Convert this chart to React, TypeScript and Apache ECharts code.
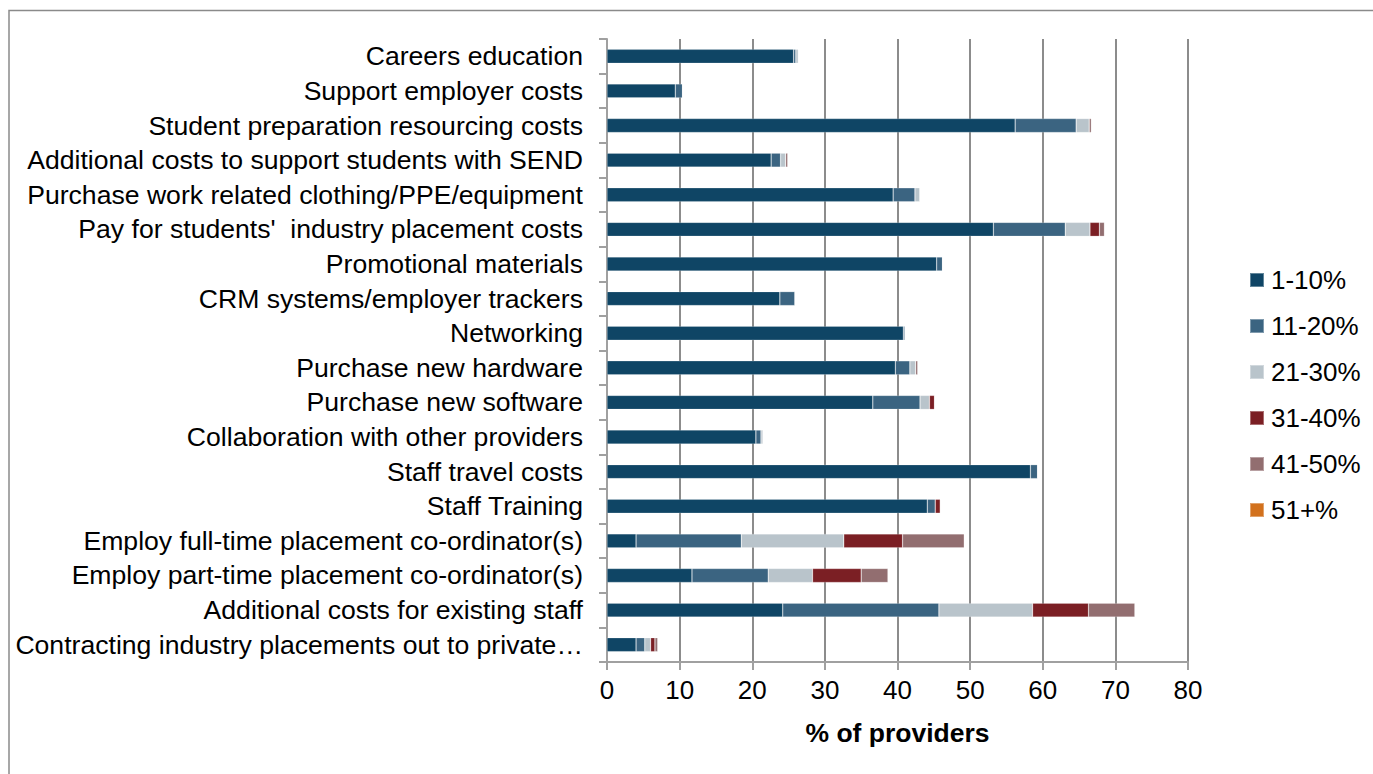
import React, { useEffect, useRef } from "react";
import * as echarts from "echarts";

const categories = [
  "Careers education",
  "Support employer costs",
  "Student preparation resourcing costs",
  "Additional costs to support students with SEND",
  "Purchase work related clothing/PPE/equipment",
  "Pay for students'  industry placement costs",
  "Promotional materials",
  "CRM systems/employer trackers",
  "Networking",
  "Purchase new hardware",
  "Purchase new software",
  "Collaboration with other providers",
  "Staff travel costs",
  "Staff Training",
  "Employ full-time placement co-ordinator(s)",
  "Employ part-time placement co-ordinator(s)",
  "Additional costs for existing staff",
  "Contracting industry placements out to private providers",
];

const seriesNames = ["1-10%", "11-20%", "21-30%", "31-40%", "41-50%", "51+%"];
const seriesColors = ["#0f4565", "#3b6481", "#b9c4cb", "#7b1f24", "#926e70", "#d2711d"];

const v1to10 = [25.7, 9.4, 56.2, 22.6, 39.4, 53.2, 45.4, 23.8, 40.8, 39.7, 36.6, 20.5, 58.3, 44.1, 4.0, 11.7, 24.2, 4.0];
const v11to20 = [0.3, 1.0, 8.4, 1.3, 3.0, 9.9, 0.8, 2.1, 0.25, 2.0, 6.5, 0.7, 1.0, 1.1, 14.5, 10.5, 21.5, 1.2];
const v21to30 = [0.35, 0, 1.8, 0.7, 0.7, 3.4, 0, 0, 0, 0.8, 1.3, 0.3, 0, 0, 14.1, 6.1, 12.9, 0.8];
const v31to40 = [0, 0, 0, 0, 0, 1.3, 0, 0, 0, 0, 0.7, 0, 0, 0.7, 8.1, 6.7, 7.7, 0.6];
const v41to50 = [0, 0, 0.3, 0.3, 0, 0.7, 0, 0, 0, 0.3, 0, 0, 0, 0, 8.5, 3.7, 6.4, 0.4];
const v51plus = [0, 0, 0, 0, 0, 0, 0, 0, 0, 0, 0, 0, 0, 0, 0, 0, 0, 0];

const seriesValues = [v1to10, v11to20, v21to30, v31to40, v41to50, v51plus];

const xTicks = { min: 0, max: 80, interval: 10 };
const xAxisTitle = "% of providers";

export default function App() {
  const ref = useRef<HTMLDivElement>(null);
  useEffect(() => {
    if (!ref.current) return;
    const chart = echarts.init(ref.current, undefined, { renderer: "svg" });
    const font = "'Liberation Sans', Arial, sans-serif";
    chart.setOption({
      animation: false,
      backgroundColor: "#ffffff",
      textStyle: { fontFamily: font },
      graphic: [
        {
          type: "rect",
          shape: { x: 9, y: 10.5, width: 1420, height: 800 },
          style: { fill: "none", stroke: "#8a8a8a", lineWidth: 1.5 },
          silent: true,
          z: -1,
        },
      ],
      grid: { left: 607, right: 185, top: 39, bottom: 112, containLabel: false },
      legend: {
        orient: "vertical",
        left: 1244,
        top: 262,
        itemWidth: 14,
        itemHeight: 14,
        itemGap: 20,
        icon: "rect",
        textStyle: { fontSize: 26, lineHeight: 26, color: "#000", fontFamily: font, padding: [0, 0, 0, 2] },
        data: seriesNames,
      },
      xAxis: {
        type: "value",
        min: xTicks.min,
        max: xTicks.max,
        interval: xTicks.interval,
        name: xAxisTitle,
        nameLocation: "middle",
        nameGap: 57,
        nameTextStyle: { fontSize: 26.5, fontWeight: "bold", color: "#000", fontFamily: font },
        axisLine: { show: true, lineStyle: { color: "#a0a0a0", width: 2 } },
        axisTick: { show: true, length: 8, lineStyle: { color: "#a0a0a0", width: 2 } },
        axisLabel: { fontSize: 26, color: "#000", margin: 15, fontFamily: font },
        splitLine: { show: true, lineStyle: { color: "#8c8c8c", width: 2 } },
      },
      yAxis: {
        type: "category",
        inverse: true,
        data: categories,
        axisLine: { show: true, lineStyle: { color: "#a0a0a0", width: 2 } },
        axisTick: { show: true, length: 8, alignWithLabel: false, interval: 0, lineStyle: { color: "#a0a0a0", width: 2 } },
        axisLabel: {
          interval: 0,
          fontSize: 26.6,
          color: "#000",
          margin: 24,
          fontFamily: font,
          width: 570,
          overflow: "truncate",
          ellipsis: "…",
        },
        splitLine: { show: false },
      },
      series: seriesNames.map((name, i) => ({
        name,
        type: "bar",
        stack: "total",
        barWidth: 14,
        itemStyle: { color: seriesColors[i], borderColor: "rgba(255,255,255,0.35)", borderWidth: 0.6 },
        data: seriesValues[i],
      })),
    });
    return () => chart.dispose();
  }, []);
  return (
    <div
      ref={ref}
      style={{ position: "fixed", left: 0, top: 0, width: 1373, height: 774 }}
    />
  );
}
